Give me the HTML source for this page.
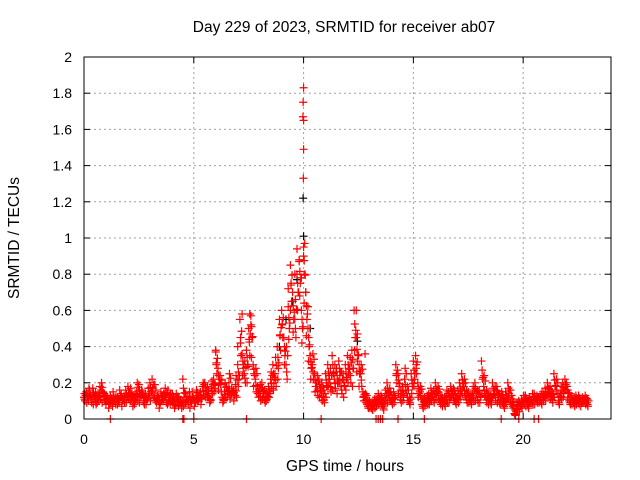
<!DOCTYPE html>
<html><head><meta charset="utf-8"><style>
body{margin:0;background:#fff}
svg{display:block;font-family:"Liberation Sans",sans-serif}
</style></head><body>
<svg id="chart" width="640" height="480" xmlns="http://www.w3.org/2000/svg">
<text x="344" y="32" text-anchor="middle" font-size="15.5">Day 229 of 2023, SRMTID for receiver ab07</text>
<text x="345" y="471" text-anchor="middle" font-size="15.5">GPS time / hours</text>
<text transform="translate(19,238) rotate(-90)" text-anchor="middle" font-size="15.5">SRMTID / TECUs</text>
<g id="grid"></g><g id="ticks"></g><g id="marks"></g>
<rect x="84" y="57" width="527" height="362" fill="none" stroke="#000" stroke-width="1"/>
</svg>
<script>
const xTicks=[0,5,10,15,20];
const yTicks=[0,0.2,0.4,0.6,0.8,1,1.2,1.4,1.6,1.8,2];
const yTickLabels=["0","0.2","0.4","0.6","0.8","1","1.2","1.4","1.6","1.8","2"];
const stepHours=0.1;
const valuesA=[0.12,0.15,0.10,0.13,0.17,0.11,0.09,0.14,0.20,0.12,
0.08,0.11,0.13,0.07,0.10,0.12,0.09,0.14,0.11,0.16,
0.18,0.10,0.13,0.08,0.15,0.19,0.12,0.10,0.14,0.11,
0.20,0.22,0.13,0.09,0.12,0.15,0.10,0.17,0.08,0.13,
0.11,0.09,0.14,0.07,0.10,0.22,0.08,0.12,0.15,0.09,
0.11,0.13,0.10,0.15,0.18,0.20,0.14,0.12,0.17,0.22,
0.37,0.28,0.24,0.12,0.15,0.18,0.20,0.13,0.16,0.19,
0.30,0.55,0.36,0.25,0.38,0.50,0.57,0.30,0.22,0.18,
0.15,0.20,0.12,0.10,0.18,0.22,0.30,0.25,0.40,0.55,
0.60,0.45,0.30,0.62,0.85,0.70,0.55,0.80,0.88,0.60,
0.95,0.70,0.50,0.35,0.30,0.25,0.18,0.22,0.15,0.12,
0.25,0.30,0.20,0.35,0.22,0.28,0.32,0.18,0.25,0.30,
0.35,0.28,0.38,0.60,0.45,0.35,0.25,0.15,0.12,0.08,
0.10,0.06,0.08,0.12,0.14,0.10,0.07,0.12,0.20,0.13,
0.10,0.15,0.30,0.25,0.12,0.18,0.22,0.14,0.10,0.25,
0.32,0.35,0.20,0.15,0.08,0.12,0.10,0.14,0.17,0.12,
0.20,0.15,0.10,0.13,0.09,0.12,0.15,0.18,0.14,0.10,
0.12,0.20,0.25,0.18,0.12,0.15,0.10,0.14,0.20,0.12,
0.16,0.32,0.18,0.12,0.15,0.10,0.20,0.14,0.18,0.10,
0.12,0.08,0.15,0.20,0.10,0.08,0.03,0.06,0.10,0.08,
0.10,0.13,0.08,0.12,0.10,0.14,0.11,0.12,0.10,0.15,
0.17,0.20,0.14,0.12,0.25,0.18,0.10,0.14,0.20,0.22,
0.18,0.10,0.12,0.09,0.13,0.10,0.11,0.12,0.10,0.09];
const valuesB=[0.10,0.13,0.16,0.09,0.12,0.08,0.13,0.11,0.15,0.10,
0.12,0.09,0.10,0.12,0.08,0.11,0.13,0.10,0.09,0.12,
0.14,0.11,0.09,0.12,0.10,0.13,0.15,0.08,0.11,0.13,
0.15,0.12,0.10,0.13,0.08,0.11,0.12,0.09,0.10,0.14,
0.08,0.12,0.10,0.09,0.06,0.12,0.10,0.08,0.10,0.12,
0.09,0.10,0.12,0.11,0.13,0.15,0.12,0.10,0.14,0.17,
0.25,0.20,0.15,0.10,0.12,0.14,0.11,0.15,0.13,0.12,
0.22,0.35,0.28,0.20,0.30,0.35,0.45,0.25,0.15,0.12,
0.10,0.14,0.09,0.12,0.14,0.17,0.20,0.18,0.28,0.38,
0.45,0.35,0.22,0.50,0.65,0.55,0.45,0.70,0.75,0.50,
0.80,0.55,0.40,0.28,0.22,0.18,0.13,0.16,0.10,0.09,
0.18,0.22,0.15,0.25,0.17,0.20,0.24,0.14,0.18,0.22,
0.25,0.20,0.28,0.45,0.32,0.25,0.18,0.10,0.09,0.06,
0.08,0.05,0.06,0.09,0.10,0.08,0.05,0.09,0.14,0.10,
0.08,0.11,0.20,0.18,0.09,0.13,0.16,0.10,0.08,0.18,
0.22,0.25,0.14,0.11,0.06,0.09,0.08,0.10,0.12,0.09,
0.14,0.11,0.08,0.10,0.07,0.09,0.11,0.13,0.10,0.08,
0.09,0.14,0.18,0.13,0.09,0.11,0.08,0.10,0.14,0.09,
0.12,0.22,0.13,0.09,0.11,0.08,0.14,0.10,0.13,0.08,
0.09,0.06,0.11,0.14,0.08,0.06,0.02,0.05,0.08,0.06,
0.08,0.10,0.06,0.09,0.08,0.11,0.09,0.10,0.08,0.12,
0.13,0.15,0.11,0.09,0.18,0.14,0.08,0.11,0.15,0.16,
0.14,0.08,0.10,0.07,0.10,0.08,0.09,0.10,0.08,0.07];
const valuesC=[0.14,0.09,0.17,0.11,0.08,0.15,0.12,0.18,0.09,0.14,
0.13,0.06,0.09,0.15,0.12,0.08,0.16,0.07,0.13,0.09,
0.11,0.17,0.07,0.14,0.20,0.09,0.16,0.13,0.08,0.17,
0.10,0.16,0.19,0.12,0.06,0.10,0.14,0.12,0.16,0.08,
0.14,0.06,0.11,0.12,0.09,0.07,0.14,0.10,0.06,0.15,
0.07,0.16,0.13,0.08,0.20,0.12,0.18,0.09,0.21,0.15,
0.30,0.16,0.19,0.09,0.20,0.12,0.25,0.17,0.10,0.24,
0.18,0.42,0.24,0.32,0.20,0.44,0.34,0.18,0.28,0.14,
0.19,0.11,0.16,0.15,0.12,0.26,0.16,0.34,0.22,0.46,
0.52,0.30,0.40,0.44,0.74,0.48,0.66,0.60,0.68,0.42,
0.64,0.46,0.32,0.22,0.36,0.15,0.24,0.12,0.20,0.16,
0.12,0.18,0.28,0.16,0.30,0.14,0.20,0.26,0.12,0.16,
0.20,0.34,0.18,0.38,0.26,0.18,0.30,0.12,0.14,0.10,
0.06,0.09,0.11,0.07,0.08,0.13,0.10,0.16,0.09,0.17,
0.13,0.09,0.24,0.14,0.16,0.10,0.28,0.18,0.12,0.14,
0.18,0.28,0.12,0.18,0.11,0.07,0.13,0.08,0.10,0.16,
0.11,0.18,0.13,0.07,0.12,0.16,0.09,0.12,0.17,0.13,
0.16,0.11,0.14,0.22,0.16,0.09,0.13,0.18,0.10,0.16,
0.09,0.14,0.24,0.16,0.08,0.13,0.12,0.18,0.09,0.14,
0.15,0.11,0.09,0.12,0.16,0.11,0.05,0.09,0.04,0.11,
0.13,0.07,0.11,0.09,0.14,0.08,0.13,0.09,0.14,0.10,
0.10,0.13,0.18,0.15,0.12,0.22,0.14,0.18,0.12,0.18,
0.11,0.14,0.08,0.12,0.08,0.13,0.07,0.09,0.13,0.11];
const peakTimes=[10.0,9.98,9.97,10.0,10.0,9.99,10.05,9.7,10.0,9.8,7.2,7.55,12.4,12.45,12.8,9.3,9.6,10.2,7.0,6.0,9.9,10.1,9.4,7.6];
const peakValues=[1.83,1.75,1.67,1.65,1.49,1.33,0.97,0.94,0.90,0.87,0.58,0.58,0.60,0.47,0.36,0.72,0.80,0.62,0.40,0.38,0.78,0.70,0.60,0.52];
const blackTimes=[9.98,10.0,9.7,12.45,9.5,10.3,9.2,8.9];
const blackValues=[1.22,1.01,0.77,0.43,0.65,0.50,0.55,0.40];
const zeroTimes=[1.2,4.5,4.55,5.0,7.4,10.8,13.3,13.4,13.5,13.6,14.3,15.5,19.0,19.8,20.5,20.7];

const NS='http://www.w3.org/2000/svg';
const X0=84,X1=611,Y0=419,Y1=57;
const xs=t=>X0+t/24*(X1-X0);
const ys=v=>Y0-v/2*(Y0-Y1);
const grid=document.getElementById('grid'),ticks=document.getElementById('ticks'),marks=document.getElementById('marks');
function el(tag,attrs,parent){const e=document.createElementNS(NS,tag);for(const k in attrs)e.setAttribute(k,attrs[k]);parent.appendChild(e);return e;}
xTicks.forEach(t=>{
  const x=xs(t);
  if(t>0){const g=el('line',{x1:x,x2:x,y1:Y0,y2:Y1,stroke:'#a0a0a0','stroke-dasharray':'2,3'},grid);
  
  }
  el('line',{x1:x,x2:x,y1:Y0,y2:Y0-6,stroke:'#000'},ticks);
  el('line',{x1:x,x2:x,y1:Y1,y2:Y1+6,stroke:'#000'},ticks);
  const tx=el('text',{x:x,y:Y0+25,'text-anchor':'middle','font-size':14},ticks);
  tx.textContent=t;
  
  
});
yTicks.forEach((v,i)=>{
  const y=ys(v);
  if(v>0&&v<2){const g=el('line',{x1:X0,x2:X1,y1:y,y2:y,stroke:'#a0a0a0','stroke-dasharray':'2,3'},grid);
  
  }
  el('line',{x1:X0,x2:X0+6,y1:y,y2:y,stroke:'#000'},ticks);
  el('line',{x1:X1,x2:X1-6,y1:y,y2:y,stroke:'#000'},ticks);
  const tx=el('text',{x:72,y:y+5,'text-anchor':'end','font-size':14},ticks);
  tx.textContent=yTickLabels[i];
  
  
});
function plus(t,v,color,name){
  const x=xs(t),y=ys(v);
  const p=el('path',{d:`M${x-4},${y}h8M${x},${y-4}v8`,stroke:color,'stroke-width':1.2,fill:'none'},marks);
  
  
}
blackTimes.forEach((t,i)=>plus(t,blackValues[i],'#000','black-point'));
valuesA.forEach((v,i)=>plus(i*stepHours,v,'#f00','srmtid-point'));
valuesB.forEach((v,i)=>plus(i*stepHours+0.05,v,'#f00','srmtid-point'));
valuesC.forEach((v,i)=>plus(i*stepHours+0.025,v,'#f00','srmtid-point'));
valuesC.forEach((v,i)=>plus(i*stepHours+0.075,(v+valuesA[i])/2,'#f00','srmtid-point'));
valuesA.forEach((v,i)=>plus(i*stepHours+0.03,(v+valuesB[i])/2,'#f00','srmtid-point'));
peakTimes.forEach((t,i)=>plus(t,peakValues[i],'#f00','peak-point'));
zeroTimes.forEach(t=>plus(t,0,'#f00','zero-point'));
</script>
</body></html>
